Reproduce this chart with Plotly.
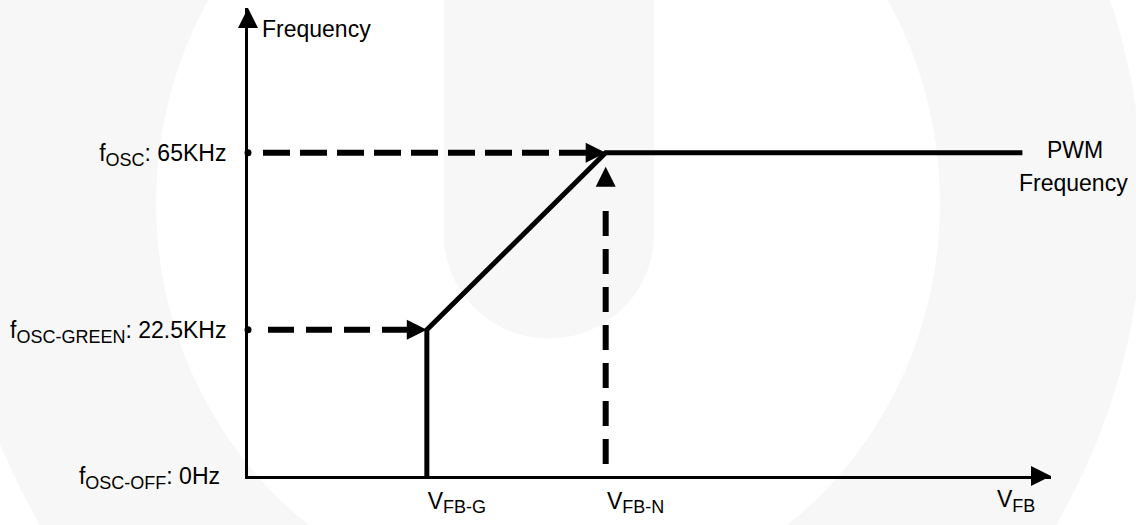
import numpy as np
import plotly.graph_objects as go

# ---- schematic values (relative units) ----
SUBX = "<sub><span style='font-size:18px'>{}</span></sub>"
vfb_labels = ["V" + SUBX.format("FB-G"), "V" + SUBX.format("FB-N")]
vfb_values = [1.0, 2.0]
vfb_pwm_end = 4.33
vfb_axis_end = 4.49

freq_labels = ["f" + SUBX.format("OSC-OFF") + ": 0Hz&nbsp;",
               "f" + SUBX.format("OSC-GREEN") + ": 22.5KHz",
               "f" + SUBX.format("OSC") + ": 65KHz"]
freq_levels = [0.0, 1.0, 2.21]
freq_axis_end = 3.2

pwm_x = [vfb_values[0], vfb_values[0], vfb_values[1], vfb_pwm_end]
pwm_y = [freq_levels[0], freq_levels[1], freq_levels[2], freq_levels[2]]

FONT = "Liberation Sans, Arial, sans-serif"
W, H = 1136, 525
ML, MR, MT, MB = 248, 85, 8, 44
PW, PH = W - ML - MR, H - MT - MB
WM = "#f7f7f7"


def px2paper(px, py):
    return (px - ML) / PW, (H - MB - py) / PH


def ellipse_path(cx, cy, rx, ry, n=160):
    t = np.linspace(0, 2 * np.pi, n, endpoint=False)
    pts = [px2paper(cx + rx * np.cos(a), cy + ry * np.sin(a)) for a in t]
    return "M" + " L".join(f"{x:.5f},{y:.5f}" for x, y in pts) + " Z"


def band_path(x0, x1, ytop, ycen, n=60):
    r = (x1 - x0) / 2
    cx = (x0 + x1) / 2
    pts = [(x0, ytop)]
    for a in np.linspace(np.pi, 0, n):
        pts.append((cx + r * np.cos(a), ycen + r * np.sin(a)))
    pts.append((x1, ytop))
    pp = [px2paper(x, y) for x, y in pts]
    return "M" + " L".join(f"{x:.5f},{y:.5f}" for x, y in pp) + " Z"


# faint background watermark (ring + rounded band)
ring = ellipse_path(548, 205, 595, 625) + " " + ellipse_path(548, 205, 392, 411)
band = band_path(444, 654, -20, 237)

fig = go.Figure()

# dashed guide lines
fig.add_trace(go.Scatter(
    x=[0, vfb_values[1]], y=[freq_levels[2], freq_levels[2]], mode="lines",
    line=dict(color="black", width=6, dash="0px,15px," + "27px,10px," * 8 + "27px,200px"),
    hoverinfo="skip", showlegend=False, cliponaxis=False))
fig.add_trace(go.Scatter(
    x=[0, vfb_values[0]], y=[freq_levels[1], freq_levels[1]], mode="lines",
    line=dict(color="black", width=6, dash="0px,20px," + "26px,12px," * 3 + "26px,200px"),
    hoverinfo="skip", showlegend=False, cliponaxis=False))
fig.add_trace(go.Scatter(
    x=[vfb_values[1], vfb_values[1]], y=[freq_levels[0], freq_levels[2]], mode="lines",
    line=dict(color="black", width=6, dash="0px,12px," + "25px,13px," * 6 + "25px,200px"),
    hoverinfo="skip", showlegend=False, cliponaxis=False))

# PWM frequency curve
fig.add_trace(go.Scatter(
    x=pwm_x, y=pwm_y, mode="lines", line=dict(color="black", width=5),
    hoverinfo="skip", showlegend=False, cliponaxis=False))

# dots where the dashed lines leave the frequency axis
fig.add_trace(go.Scatter(
    x=[0, 0], y=[freq_levels[1], freq_levels[2]], mode="markers",
    marker=dict(symbol="circle", size=7, color="black"),
    hoverinfo="skip", showlegend=False, cliponaxis=False))

# arrowheads
fig.add_trace(go.Scatter(
    x=[vfb_values[1], vfb_values[0], vfb_axis_end], y=[freq_levels[2], freq_levels[1], 0],
    mode="markers", marker=dict(symbol="arrow-right", size=20, color="black"),
    hoverinfo="skip", showlegend=False, cliponaxis=False))
fig.add_trace(go.Scatter(
    x=[0], y=[freq_axis_end], mode="markers",
    marker=dict(symbol="arrow-up", size=20, color="black"),
    hoverinfo="skip", showlegend=False, cliponaxis=False))
fig.add_trace(go.Scatter(
    x=[vfb_values[1]], y=[freq_levels[2]], mode="markers",
    marker=dict(symbol="arrow-up", size=20, color="black", standoff=14),
    hoverinfo="skip", showlegend=False, cliponaxis=False))

annots = [
    dict(x=0, y=freq_axis_end, text="Frequency", xanchor="left", yanchor="middle",
         xshift=12, yshift=-21, showarrow=False),
    dict(x=vfb_pwm_end, y=freq_levels[2], text="PWM", xanchor="center", yanchor="middle",
         xshift=53, yshift=3, showarrow=False),
    dict(x=vfb_pwm_end, y=freq_levels[2], text="Frequency", xanchor="center", yanchor="middle",
         xshift=51, yshift=-30, showarrow=False),
    dict(x=vfb_axis_end, y=0, text="V" + SUBX.format("FB"), xanchor="right", yanchor="top",
         xshift=-14, yshift=-8, showarrow=False),
]

fig.update_layout(
    width=W, height=H,
    margin=dict(l=ML, r=MR, t=MT, b=MB),
    paper_bgcolor="white", plot_bgcolor="rgba(0,0,0,0)",
    font=dict(family=FONT, size=23, color="black"),
    showlegend=False,
    annotations=annots,
    shapes=[
        dict(type="path", xref="paper", yref="paper", path=ring, fillcolor=WM,
             line=dict(width=0), layer="below", fillrule="evenodd"),
        dict(type="path", xref="paper", yref="paper", path=band, fillcolor=WM,
             line=dict(width=0), layer="below"),
    ],
    xaxis=dict(range=[0, vfb_axis_end], showgrid=False, zeroline=False, showline=True,
               linecolor="black", linewidth=3, tickmode="array", tickvals=vfb_values,
               ticktext=vfb_labels, ticks="", ticklabelshift=30, ticklabelstandoff=2,
               tickfont=dict(family=FONT, size=23, color="black"), fixedrange=True),
    yaxis=dict(range=[0, freq_axis_end], showgrid=False, zeroline=False, showline=True,
               linecolor="black", linewidth=3, tickmode="array", tickvals=freq_levels,
               ticktext=freq_labels, ticks="", ticklabelstandoff=14,
               tickfont=dict(family=FONT, size=23, color="black"), fixedrange=True),
)

fig.write_html(
    "out.html",
    config={"displayModeBar": False},
    post_script="document.body.style.margin='0';document.body.style.overflow='hidden';",
)
